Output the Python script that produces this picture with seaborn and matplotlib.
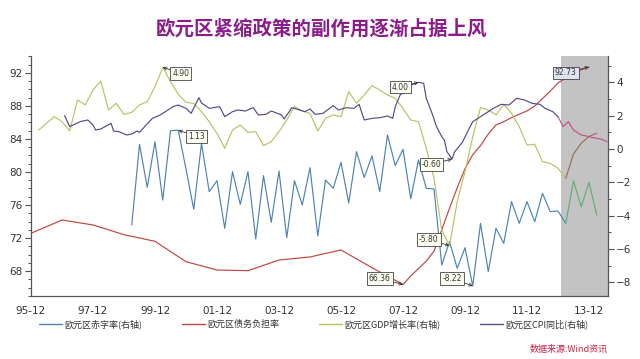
import numpy as np
import pandas as pd
import matplotlib
matplotlib.use("Agg")
import matplotlib.pyplot as plt
import seaborn as sns
from matplotlib.lines import Line2D
from matplotlib.ticker import FixedLocator, MultipleLocator

# ---------------- data ----------------
title = "欧元区紧缩政策的副作用逐渐占据上风"
source = "数据来源:Wind资讯"
legend_labels = ["欧元区赤字率(右轴)", "欧元区债务负担率", "欧元区GDP增长率(右轴)", "欧元区CPI同比(右轴)"]

# deficit ratio (right axis), quarterly from 1999-Q1
deficit_start = "1999-03"
deficit = [-4.56, 0.28, -2.30, 0.44,
           -3.06, 1.10, 1.13, -1.20,
           -3.62, 0.34, -2.56, -1.90,
           -4.76, -1.36, -3.32, -1.36,
           -5.40, -1.60, -4.40, -1.32,
           -5.32, -1.90, -3.36, -1.12,
           -5.22, -1.86, -2.36, -0.80,
           -3.24, -0.16, -1.71, -0.41,
           -2.55, 0.84, -0.99, -0.02,
           -2.98, -0.66, -2.36, -2.40,
           -6.96, -5.56, -7.16, -5.92,
           -8.22, -4.46, -7.36, -4.76,
           -5.66, -3.16, -4.46, -3.16,
           -4.36, -2.66, -3.76, -3.72,
           -4.46]
deficit_fc_start = "2013-03"
deficit_fc = [-4.46, -1.92, -3.46, -2.00, -3.96]

# GDP growth (right axis), quarterly from 1996-Q1
gdp_start = "1996-03"
gdp = [1.14, 1.54, 1.94, 1.64,
       1.08, 2.94, 2.64, 3.54,
       4.08, 2.34, 2.74, 2.08,
       2.20, 2.64, 2.84, 3.74,
       4.90, 4.04, 3.28, 2.80,
       2.74, 2.24, 1.64, 0.94,
       0.04, 1.14, 1.44, 1.00,
       1.04, 0.20, 0.44, 1.04,
       1.74, 2.54, 2.28, 2.14,
       1.08, 1.84, 2.04, 1.94,
       3.44, 2.74, 3.24, 3.80,
       3.54, 3.24, 3.04, 2.44,
       1.74, 1.64, 0.04, -1.76,
       -4.86, -5.80, -3.16, -1.36,
       0.74, 2.48, 2.34, 2.04,
       2.68, 2.14, 1.34, 0.24,
       0.28, -0.76, -0.86, -1.16,
       -1.76]
gdp_fc_start = "2013-03"
gdp_fc = [-1.76, -0.30, 0.35, 0.75, 0.95]

# debt ratio (left axis)
debt_dates = ["1995-12", "1996-12", "1997-12", "1998-12", "1999-12", "2000-12",
              "2001-12", "2002-12", "2003-12", "2004-12", "2005-12", "2006-12",
              "2007-12",
              "2008-03", "2008-06", "2008-09", "2008-12",
              "2009-03", "2009-06", "2009-09", "2009-12",
              "2010-03", "2010-06", "2010-09", "2010-12",
              "2011-03", "2011-06", "2011-09", "2011-12",
              "2012-03", "2012-06", "2012-09", "2012-12",
              "2013-03", "2013-06", "2013-09", "2013-12"]
debt = [72.57, 74.18, 73.58, 72.40, 71.60, 69.13,
        68.12, 68.04, 69.33, 69.70, 70.55, 68.40,
        66.36,
        67.4, 68.3, 69.2, 70.4,
        73.0, 75.6, 78.1, 80.4,
        82.1, 83.2, 84.6, 85.7,
        86.1, 86.6, 87.0, 87.4,
        88.0, 88.9, 89.8, 90.8,
        91.4, 92.0, 92.4, 92.73]

# CPI (right axis), monthly readings
cpi_dates = ["1997-01", "1997-03", "1997-07", "1997-10", "1997-12", "1998-01",
             "1998-03", "1998-07", "1998-08", "1998-10", "1999-01", "1999-03",
             "1999-05", "1999-06", "1999-08", "1999-11", "2000-02", "2000-05",
             "2000-07", "2000-09", "2000-12", "2001-02", "2001-05", "2001-06",
             "2001-09", "2002-01", "2002-03", "2002-06", "2002-08", "2002-11",
             "2003-02", "2003-04", "2003-07", "2003-09", "2004-01", "2004-02",
             "2004-05", "2004-08", "2004-10", "2004-12", "2005-02", "2005-05",
             "2005-09", "2005-11", "2006-02", "2006-05", "2006-07", "2006-09",
             "2006-12", "2007-03", "2007-06", "2007-08", "2007-09", "2007-11",
             "2008-02", "2008-03", "2008-06", "2008-08", "2008-09", "2008-11",
             "2009-01", "2009-03", "2009-04", "2009-05", "2009-07", "2009-08",
             "2009-11", "2010-01", "2010-03", "2010-05", "2010-08", "2010-11",
             "2011-02", "2011-05", "2011-08", "2011-11", "2012-02", "2012-05",
             "2012-07", "2012-10", "2012-12"]
cpi = [2.00, 1.34, 1.64, 1.74, 1.44, 1.14,
       1.20, 1.54, 1.08, 1.04, 0.84, 0.90,
       1.08, 1.00, 1.34, 1.84, 2.04, 2.34,
       2.54, 2.64, 2.44, 2.14, 3.08, 2.76,
       2.44, 2.54, 1.94, 2.24, 2.34, 2.28,
       2.48, 2.04, 2.08, 2.28, 2.04, 1.80,
       2.48, 2.34, 2.24, 2.40, 2.08, 2.14,
       2.60, 2.34, 2.48, 2.44, 2.68, 1.74,
       1.84, 1.88, 1.98, 1.84, 2.54, 3.28,
       3.44, 3.84, 4.00, 3.94, 3.04, 2.24,
       1.34, 0.74, 0.54, -0.16, -0.60, -0.16,
       0.40, 1.04, 1.64, 1.84, 2.14, 2.44,
       2.68, 2.64, 3.04, 2.94, 2.74, 2.68,
       2.44, 2.24, 1.94]
cpi_fc_dates = ["2012-12", "2013-02", "2013-04", "2013-06", "2013-07", "2013-09",
                "2013-11", "2014-01", "2014-03", "2014-05", "2014-07"]
cpi_fc = [1.94, 1.34, 1.64, 1.14, 1.04, 0.84, 0.78, 0.70, 0.64, 0.58, 0.44]

xtick_labels = ["95-12", "97-12", "99-12", "01-12", "03-12", "05-12",
                "07-12", "09-12", "11-12", "13-12"]
left_ticks = [68, 72, 76, 80, 84, 88, 92]
right_ticks = [-8, -6, -4, -2, 0, 2, 4]
forecast_from = "2013-01"

# annotations: (axis, point date, point value, text date, text value, label)
annots = [("r", "2000-03", 4.90, "2000-10", 4.55, "4.90"),
          ("r", "2000-09", 1.13, "2001-04", 0.75, "1.13"),
          ("r", "2008-06", 4.00, "2007-11", 3.72, "4.00"),
          ("r", "2009-07", -0.60, "2008-11", -0.93, "-0.60"),
          ("r", "2009-06", -5.80, "2008-10", -5.42, "-5.80"),
          ("l", "2007-12", 66.36, "2007-03", 67.08, "66.36"),
          ("r", "2010-03", -8.22, "2009-07", -7.77, "-8.22"),
          ("l", "2013-12", 92.73, "2013-03", 92.0, "92.73")]


def dec(s):
    y, m = s.split("-")
    return int(y) + (int(m) - 1) / 12.0


def qdates(start, n):
    d = pd.date_range(start=start + "-01", periods=n, freq="3MS")
    return [dt.year + (dt.month - 1) / 12.0 for dt in d]


def lab2dec(lab):
    yy = int(lab[:2])
    return (1900 + yy if yy > 50 else 2000 + yy) + (int(lab[3:]) - 1) / 12.0


# ---------------- style ----------------
sns.set_style("white")
plt.rcParams["font.family"] = ["DejaVu Sans"]
cjk = ["Noto Sans CJK SC", "DejaVu Sans"]

C_DEF = "#4d82b8"
C_DEBT = "#c0453f"
C_GDP = "#b9c262"
C_CPI = "#4f4d8c"
C_DEF_FC = "#5fae72"
C_GDP_FC = "#93705f"
C_CPI_FC = "#c9508c"
AXC = "#555555"

fig = plt.figure(figsize=(6.4, 3.59), dpi=100)
ax = fig.add_axes([31 / 640, 63 / 359, 577 / 640, 240 / 359])
ax2 = ax.twinx()

x0 = dec("1995-12")
x1 = x0 + 577 / 31
ax.set_xlim(x0, x1)
ax.set_ylim(64.97, 94.06)
ax2.set_ylim(-8.82, 5.58)

ax.axvspan(dec(forecast_from), x1, color="#c3c3c3", lw=0, zorder=0)

lw = 0.85
sns.lineplot(x=[dec(d) for d in debt_dates], y=debt, ax=ax, color=C_DEBT,
             linewidth=lw, errorbar=None, legend=False)
sns.lineplot(x=qdates(deficit_start, len(deficit)), y=deficit, ax=ax2, color=C_DEF,
             linewidth=lw, errorbar=None, legend=False)
sns.lineplot(x=qdates(deficit_fc_start, len(deficit_fc)), y=deficit_fc, ax=ax2,
             color=C_DEF_FC, linewidth=lw, errorbar=None, legend=False)
sns.lineplot(x=qdates(gdp_start, len(gdp)), y=gdp, ax=ax2, color=C_GDP,
             linewidth=lw, errorbar=None, legend=False)
sns.lineplot(x=qdates(gdp_fc_start, len(gdp_fc)), y=gdp_fc, ax=ax2, color=C_GDP_FC,
             linewidth=lw, errorbar=None, legend=False)
sns.lineplot(x=[dec(d) for d in cpi_dates], y=cpi, ax=ax2, color=C_CPI,
             linewidth=lw, errorbar=None, legend=False)
sns.lineplot(x=[dec(d) for d in cpi_fc_dates], y=cpi_fc, ax=ax2, color=C_CPI_FC,
             linewidth=lw, errorbar=None, legend=False)

# axes styling
for a in (ax, ax2):
    a.set_xlabel("")
    a.set_ylabel("")
    a.spines["top"].set_visible(False)
    for s in ("left", "right", "bottom"):
        a.spines[s].set_color(AXC)
        a.spines[s].set_linewidth(0.9)
ax.spines["right"].set_visible(False)
ax2.spines["left"].set_visible(False)
ax2.spines["bottom"].set_visible(False)

ax.set_xticks([lab2dec(l) for l in xtick_labels])
ax.set_xticklabels(xtick_labels)
ax.xaxis.set_minor_locator(FixedLocator([lab2dec(l) + 1 for l in xtick_labels]))
ax.set_yticks(left_ticks)
ax.yaxis.set_minor_locator(MultipleLocator(1))
ax2.set_yticks(right_ticks)
ax2.yaxis.set_minor_locator(MultipleLocator(1))

ax.tick_params(axis="both", which="major", direction="out", length=4, width=0.8,
               color=AXC, labelsize=7.5, labelcolor="#333333", pad=2)
ax.tick_params(axis="both", which="minor", direction="out", length=2.5, width=0.7,
               color=AXC)
ax.tick_params(axis="x", which="major", pad=3)
ax2.tick_params(axis="y", which="major", direction="out", length=4, width=0.8,
                color=AXC, labelsize=7.5, labelcolor="#333333", pad=2)
ax2.tick_params(axis="y", which="minor", direction="out", length=2.5, width=0.7,
                color=AXC)
ax.grid(False)
ax2.grid(False)

# annotations
for side, pd_, pv, td, tv, lab in annots:
    target = ax if side == "l" else ax2
    fc = "#dfe3f2" if lab == "92.73" else "#fdfdf2"
    target.annotate(lab, xy=(dec(pd_), pv), xytext=(dec(td), tv),
                    fontsize=5.5, color="#333333", ha="center", va="center",
                    bbox=dict(boxstyle="square,pad=0.25", fc=fc, ec="#444444", lw=0.6),
                    arrowprops=dict(arrowstyle="->", color="#333333", lw=0.6,
                                    shrinkA=0, shrinkB=0),
                    zorder=10)

# title
fig.text(0.503, 0.92, title, ha="center", va="center", fontsize=14,
         fontweight="bold", color="#8b1c8b", family=cjk)

# legend
handles = [Line2D([0], [0], color=C_DEF, lw=1.0),
           Line2D([0], [0], color=C_DEBT, lw=1.0),
           Line2D([0], [0], color=C_GDP, lw=1.0),
           Line2D([0], [0], color=C_CPI, lw=1.0)]
leg = fig.legend(handles, legend_labels, ncol=4, loc="center",
                 bbox_to_anchor=(0.49, 0.098), frameon=False,
                 prop={"family": cjk, "size": 6.5}, handlelength=2.6,
                 handletextpad=0.2, columnspacing=4.4)
for t in leg.get_texts():
    t.set_color("#333333")

fig.text(608 / 640, 0.028, source, ha="right", va="center", fontsize=6.5,
         color="#cc2244", style="italic", family=cjk)

fig.savefig("out.png", dpi=100)
